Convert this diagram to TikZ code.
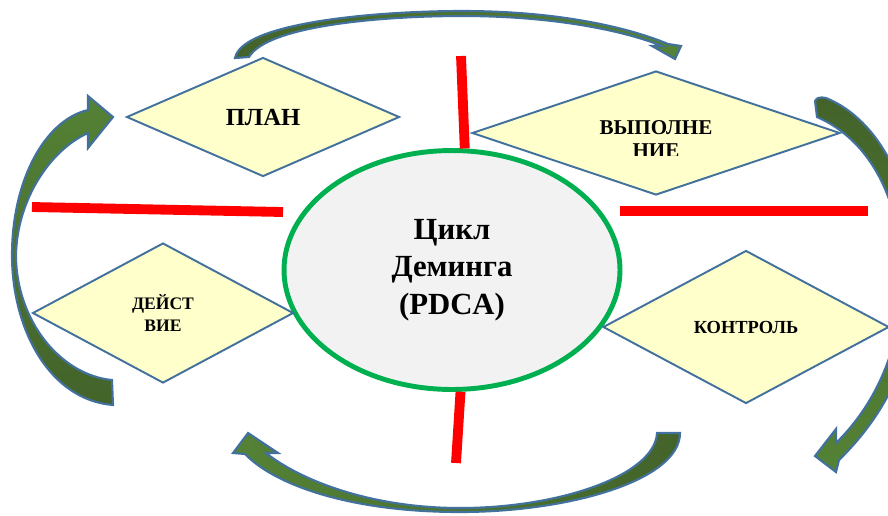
\documentclass[tikz,border=0pt]{standalone}
\usepackage{fontspec}
\setmainfont{Liberation Serif}
\usetikzlibrary{shapes.geometric}
\definecolor{rhombfill}{HTML}{FFFFCC}
\definecolor{rhombline}{HTML}{41719C}
\definecolor{cyclefill}{HTML}{F2F2F2}
\definecolor{cycleline}{HTML}{00B050}
\definecolor{arrdark}{HTML}{43632A}
\definecolor{arrlight}{HTML}{548235}
\tikzset{rhomb/.style={
        diamond,
        draw=rhombline,
        line width=1.1pt,
        fill=rhombfill,
        aspect=2.5,
        inner sep=0pt,
        align=center},
        %
        sepline/.style={
            draw=red,
            line width=5.6pt},
        %
        cyclearrow/.style={
            draw=rhombline,
            line width=1.2pt,
            line join=miter}
        }

\begin{document}
\begin{tikzpicture}[x=0.02cm, y=-0.02cm]
\useasboundingbox (0,0) rectangle (888,515);
\clip (0,0) rectangle (888,515);

% curved arrows round the cycle
\draw[cyclearrow, left color=arrdark, right color=arrlight]
    (235,58) .. controls (242,22) and (380,11) .. (462,11)
    .. controls (560,11) and (630,28) .. (668,44)
    -- (681,46) -- (675,59) -- (652,46) -- (662,46)
    .. controls (625,31) and (555,16) .. (462,16)
    .. controls (385,16) and (268,25) .. (249,57) -- cycle;
\draw[cyclearrow, top color=arrdark, bottom color=arrlight]
    (817,117) -- (815,101) .. controls (817,97) and (821,97) .. (826,98)
    .. controls (880,120) and (916,190) .. (916,280)
    .. controls (916,350) and (890,410) .. (839,460)
    -- (836,472) -- (815,456) -- (836,429) -- (836,443)
    .. controls (880,400) and (902,340) .. (902,280)
    .. controls (902,200) and (870,140) .. (817,117) -- cycle;
\draw[cyclearrow, left color=arrlight, right color=arrdark]
    (657,433) -- (680,433)
    .. controls (680,480) and (570,512) .. (460,512)
    .. controls (350,512) and (275,485) .. (245,454)
    -- (233,453) -- (248,433) -- (278,453) -- (266,453)
    .. controls (300,480) and (370,508) .. (460,508)
    .. controls (560,508) and (655,475) .. (657,433) -- cycle;
\draw[cyclearrow, top color=arrlight, bottom color=arrdark]
    (112,380) -- (113,405)
    .. controls (50,400) and (12,330) .. (12,255)
    .. controls (12,180) and (45,120) .. (88,110)
    -- (88,96) -- (113,117) -- (88,148) -- (88,133)
    .. controls (50,150) and (17,200) .. (16,255)
    .. controls (16,320) and (60,375) .. (112,380) -- cycle;

\node[ellipse, draw=cycleline, line width=2.8pt, fill=cyclefill,
      minimum width=6.72cm, minimum height=4.78cm, inner sep=0pt, align=center,
      font=\bfseries\fontsize{17.5}{21.5}\selectfont] (cyc) at (452,270)
      {Цикл\\Деминга\\(PDCA)};

\node[rhomb, minimum width=5.46cm, minimum height=2.38cm,
      font=\bfseries\fontsize{14}{16}\selectfont] (plan) at (263,117) {ПЛАН};
\node[rhomb, minimum width=7.36cm, minimum height=2.48cm] (vyp) at (656,133) {};
\begin{scope}
\clip (560,100) rectangle (760,155);
\node[inner sep=0pt, align=center, font=\bfseries\fontsize{12}{13}\selectfont]
      (vyptext) at (656,139) {ВЫПОЛНЕ\\НИЕ};
\end{scope}
\node[rhomb, minimum width=5.72cm, minimum height=3.06cm,
      font=\bfseries\fontsize{10.5}{12}\selectfont] (kontr) at (746,327) {КОНТРОЛЬ};
\node[rhomb, minimum width=5.22cm, minimum height=2.8cm,
      font=\bfseries\fontsize{10}{12}\selectfont] (dejst) at (163,313) {ДЕЙСТ\\ВИЕ};

% red separators
\coordinate (sepN) at (461,56);
\coordinate (sepS) at (456,463);
\coordinate (sepW1) at (32,207);
\coordinate (sepW2) at (283,212);
\coordinate (sepE1) at (620,211);
\coordinate (sepE2) at (868,211);
\draw[sepline] (sepN) -- (cyc.84);
\draw[sepline] (cyc.274) -- (sepS);
\draw[sepline] (sepW1) -- (sepW2);
\draw[sepline] (sepE1) -- (sepE2);
\end{tikzpicture}
\end{document}
